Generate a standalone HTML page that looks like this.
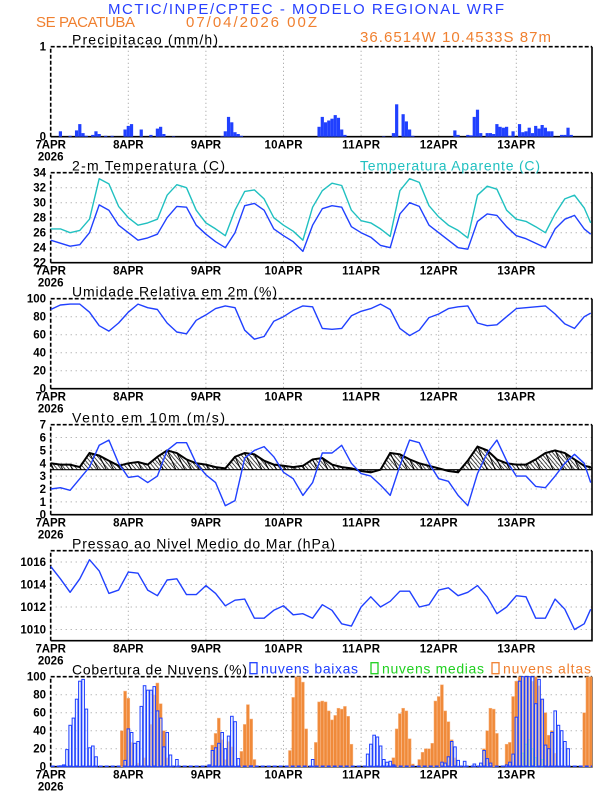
<!DOCTYPE html>
<html><head><meta charset="utf-8">
<style>
html,body{margin:0;padding:0;background:#fff;}
svg{display:block;font-family:"Liberation Sans",sans-serif;}
</style></head>
<body>
<svg id="chart" width="612" height="792" viewBox="0 0 612 792" xmlns="http://www.w3.org/2000/svg">
<defs>
<pattern id="hatch" width="3" height="3" patternUnits="userSpaceOnUse" patternTransform="rotate(-40)">
<line x1="0" y1="0" x2="0" y2="3" stroke="#000" stroke-width="1.4"/>
</pattern>
</defs>
<text x="108" y="14" textLength="396" font-size="15" fill="#2840ff">MCTIC/INPE/CPTEC - MODELO REGIONAL WRF</text>
<text x="36" y="27" textLength="99" font-size="15" fill="#f08030">SE PACATUBA</text>
<text x="186" y="27" textLength="131" font-size="15" fill="#f08030">07/04/2026 00Z</text>
<text x="360" y="42" textLength="191" font-size="15" fill="#f08030">36.6514W 10.4533S 87m</text>
<g id="plots"></g>
</svg>
<script>
const hours = [0,3,6,9,12,15,18,21,24,27,30,33,36,39,42,45,48,51,54,57,60,63,66,69,72,75,78,81,84,87,90,93,96,99,102,105,108,111,114,117,120,123,126,129,132,135,138,141,144,147,150,153,156,159,162,165,167];
const tempValues = [25.0,24.6,24.2,24.4,26.0,29.7,29.0,27.0,26.0,25.0,25.3,25.8,28.0,29.5,29.4,27.0,25.8,24.8,24.0,26.0,29.6,29.9,29.0,26.5,25.6,24.8,23.5,
 27.0,29.2,29.6,29.4,26.8,26.0,25.4,24.3,24.0,28.5,30.0,29.5,27.0,26.0,25.0,24.0,23.8,27.5,28.5,28.3,26.8,25.6,25.2,24.6,24.0,26.5,27.8,28.3,26.5,25.8];
const apparentValues = [26.5,26.5,26.0,26.3,27.8,33.2,32.5,29.5,28.0,27.0,27.3,27.8,31.0,32.4,32.0,29.0,27.3,26.5,25.6,29.0,31.5,31.7,30.5,28.0,27.0,26.2,25.0,
 29.4,31.6,32.6,32.3,29.0,27.6,27.3,26.5,25.5,31.6,33.2,32.7,29.6,28.1,27.0,26.3,25.3,31.0,32.2,31.8,29.0,27.8,27.5,26.8,26.0,28.5,30.5,31.0,29.3,27.3];
const rhValues = [88,93,94,94,85,70,64,73,85,94,90,88,73,63,61,76,82,89,92,90,65,55,58,75,80,87,92,
 91,67,66,67,81,86,89,94,88,67,59,65,79,83,89,91,92,73,70,71,80,89,90,91,92,83,72,67,80,84];
const windSpeed = [2.0,2.1,1.9,2.8,3.7,5.4,5.8,4.0,2.9,3.0,2.5,3.0,5.0,5.6,5.6,4.0,3.1,2.5,0.7,1.1,4.4,5.0,5.3,4.5,3.3,2.8,1.5,
 2.5,4.8,4.8,5.4,4.0,3.2,3.0,2.3,1.5,3.8,5.8,5.6,4.0,2.8,2.6,1.5,0.7,3.2,4.8,5.8,4.2,3.0,3.0,2.2,2.1,3.0,4.0,4.7,4.0,2.5];
const windNorth = [0.5,0.4,0.4,0.2,1.3,1.1,0.7,0.3,0.5,0.6,0.4,1.0,1.5,1.3,0.8,0.5,0.4,0.2,0.1,1.0,1.3,1.2,0.7,0.4,0.3,0.2,0.3,
 0.8,0.9,0.4,0.2,0.1,-0.1,-0.2,0.0,1.3,1.2,0.8,0.5,0.3,0.1,-0.1,-0.2,0.7,1.8,1.5,0.8,0.5,0.4,0.4,0.8,1.3,1.5,1.3,0.8,0.3,0.2];
const windEast = [-0.8,-0.6,-0.6,-0.4,-2.2,-1.8,-1.2,-0.6,-0.8,-0.9,-0.7,-1.5,-2.2,-2.0,-1.3,-0.8,-0.7,-0.5,-0.3,-1.5,-2.0,-1.9,-1.2,-0.7,-0.6,-0.4,-0.5,
 -1.2,-1.4,-0.7,-0.4,-0.2,0.2,0.3,0.0,-2.0,-1.9,-1.2,-0.8,-0.5,-0.2,0.2,0.3,-1.0,-2.4,-2.0,-1.2,-0.8,-0.7,-0.7,-1.2,-1.9,-2.2,-1.9,-1.2,-0.5,-0.3];
const pressureValues = [1015.6,1014.5,1013.3,1014.5,1016.2,1015.2,1013.2,1013.5,1015.1,1015.0,1013.5,1013.0,1014.4,1014.5,1013.1,1013.1,1013.9,1013.2,1012.1,1012.6,1012.7,1011.0,1011.0,1011.7,1012.1,1011.3,1011.4,
 1011.0,1012.2,1011.7,1010.5,1010.3,1012.0,1012.9,1012.0,1012.5,1013.4,1013.4,1012.0,1012.2,1013.5,1013.7,1013.0,1013.3,1013.9,1012.9,1011.4,1012.0,1013.0,1012.9,1011.0,1011.0,1012.7,1011.8,1010.0,1010.5,1011.8];
const precipHours = [3,6,8,9,10,11,13,14,15,17,19,23,24,25,28,31,33,34,35,38,53,54,55,56,57,58,59,
 83,84,85,86,87,88,89,90,91,103,106,107,109,110,111,112,125,126,129,130,131,132,133,135,136,137,138,139,140,141,142,143,145,146,147,148,149,150,151,152,153,154,155,158,159,160,161];
const precipValues = [0.06,0.01,0.07,0.14,0.04,0.01,0.02,0.06,0.03,0.01,0.01,0.08,0.12,0.14,0.08,0.02,0.09,0.11,0.03,0.005,0.005,0.06,0.22,0.16,0.05,0.03,0.01,
 0.11,0.22,0.16,0.18,0.2,0.24,0.21,0.08,0.02,0.005,0.04,0.36,0.25,0.17,0.08,0.01,0.07,0.02,0.02,0.015,0.22,0.3,0.04,0.04,0.04,0.03,0.14,0.11,0.1,0.11,0.01,0.06,0.14,0.05,0.06,0.1,0.04,0.12,0.09,0.13,0.1,0.06,0.06,0.02,0.02,0.1,0.02];
const lowHours = [3,4,5,6,7,8,9,10,11,12,13,14,23,24,25,26,27,28,29,30,31,32,33,34,35,36,37,39,49,50,51,52,53,54,55,56,57,58,62,81,98,99,100,101,102,103,104,105,106,121,122,123,124,125,126,128,131,133,134,135,136,141,142,143,144,145,146,147,148,149,150,151,152,153,154,155,156,157,158,159,160];
const lowValues = [1,2,19,46,54,75,95,97,64,21,23,11,7,42,38,26,28,67,90,85,85,89,62,54,22,38,13,8,2,18,21,26,38,20,34,56,50,9,1,8,14,25,35,33,23,8,5,6,2,5,4,11,28,22,7,6,3,4,18,9,4,2,5,14,55,95,100,100,100,100,70,97,75,24,20,38,62,46,40,28,20];
const midHours = [146,147,148,149,150,152];
const midValues = [15,25,30,20,10,8];
const highHours = [22,23,24,25,27,29,31,32,33,34,35,36,50,51,52,53,54,55,56,59,60,61,62,63,74,75,76,77,78,79,82,83,84,85,86,87,88,89,90,91,92,93,106,107,108,109,110,111,112,114,115,116,117,118,119,120,121,122,123,124,125,134,135,136,137,138,141,142,143,144,145,146,147,148,149,150,151,152,153,154,155,156,165,166,167];
const highValues = [40,84,76,27,4,10,47,80,93,70,40,10,24,37,54,30,8,28,22,17,47,69,53,8,18,77,100,100,94,42,27,72,73,72,62,52,57,65,64,67,56,25,10,42,59,65,62,31,3,8,16,20,20,26,73,78,91,62,50,30,10,20,40,65,64,37,25,27,78,95,100,100,100,100,95,100,90,75,60,35,40,15,60,100,100];
const dayLabels = ["7APR","8APR","9APR","10APR","11APR","12APR","13APR"];

const NS = "http://www.w3.org/2000/svg";
const root = document.getElementById("plots");
const X0 = 50.7, DAYW = 77.6, XR = 592, PH = 90;
function X(h){ return X0 + h*DAYW/24; }
function mk(tag, attrs, parent){
  const e = document.createElementNS(NS, tag);
  for (const k in attrs) e.setAttribute(k, attrs[k]);
  (parent||root).appendChild(e);
  return e;
}
function makeY(top, ymin, ymax){ return v => top + PH - (v-ymin)/(ymax-ymin)*PH; }

function frame(top, ymin, ymax, ticks, title, titleLen, name){
  const Y = makeY(top, ymin, ymax);
  const g = mk("g", {});
  
  
  for (let d=1; d<7; d++){
    const l = mk("line",{x1:X(d*24),x2:X(d*24),y1:top,y2:top+PH,stroke:"#999","stroke-width":1,"stroke-dasharray":"1,3"},g);
    
    
  }
  ticks.forEach(t=>{
    if (t>ymin && t<ymax){
      const l = mk("line",{x1:X0,x2:XR,y1:Y(t),y2:Y(t),stroke:"#999","stroke-width":1,"stroke-dasharray":"1,4"},g);
      
      
    }
    const tx = mk("text",{x:46,y:Y(t)+4,"text-anchor":"end","font-size":11.5,fill:"#000","font-weight":"bold"},g);
    tx.textContent = t;
    
    
  });
  dayLabels.forEach((lab,i)=>{
    const tx = mk("text",{x:X(i*24),y:top+PH+12,"text-anchor":"middle","font-size":11.5,"font-weight":"bold",fill:"#000",textLength:lab.length*7.6},g);
    tx.textContent = lab;
    
    
  });
  const yr = mk("text",{x:X0,y:top+PH+24,"text-anchor":"middle","font-size":11.5,"font-weight":"bold",fill:"#000"},g);
  yr.textContent = "2026";
  
  
  const tt = mk("text",{x:72,y:top-2,"font-size":14,fill:"#000",textLength:titleLen},g);
  tt.textContent = title;
  
  
  const b1 = mk("path",{d:`M${X0},${top+PH} L${X0},${top} L${XR},${top}`,fill:"none",stroke:"#000","stroke-width":1.6,"stroke-dasharray":"4,2"},g);
  
  
  const b2 = mk("path",{d:`M${XR},${top} L${XR},${top+PH} L${X0},${top+PH}`,fill:"none",stroke:"#000","stroke-width":1.6},g);
  
  
  return Y;
}
function line(vals, Y, color, name){
  const d = hours.map((h,i)=>(i?"L":"M")+X(h).toFixed(1)+","+Y(vals[i]).toFixed(1)).join(" ");
  const p = mk("path",{d:d,fill:"none",stroke:color,"stroke-width":1.4,"stroke-linejoin":"round"});
  
  
}
const tops = [46.7,172.7,298.7,424.7,550.7,676.7];

// Precipitation
let Y = frame(tops[0],0,1,[0,1],"Precipitacao (mm/h)",146,"precipitation");
precipHours.forEach((h,i)=>{
  const y = Y(precipValues[i]);
  const r = mk("rect",{x:X(h)-1.6,y:y,width:3.2,height:Y(0)-y,fill:"#2040ff"});
  
  
});

// Temperature
Y = frame(tops[1],22,34,[22,24,26,28,30,32,34],"2-m Temperatura (C)",153,"temperature");
const at = mk("text",{x:360,y:tops[1]-2,"font-size":14,fill:"#20c0c0",textLength:180});
at.textContent = "Temperatura Aparente (C)";


line(apparentValues, Y, "#20c0c0", "apparent-temp-line");
line(tempValues, Y, "#2040ff", "temp-line");

// Humidity
Y = frame(tops[2],0,100,[0,20,40,60,80,100],"Umidade Relativa em 2m (%)",205,"humidity");
line(rhValues, Y, "#2040ff", "humidity-line");

// Wind
Y = frame(tops[3],0,7,[0,1,2,3,4,5,6,7],"Vento em 10m (m/s)",153,"wind");
const sc = PH/7;
let poly = `M${X(hours[0])},${Y(3.5)} `;
hours.forEach((h,i)=>{ poly += `L${X(h).toFixed(1)},${Y(3.5+windNorth[i]).toFixed(1)} `; });
poly += `L${X(hours[hours.length-1])},${Y(3.5)} Z`;
const hp = mk("path",{d:poly,fill:"url(#hatch)",stroke:"none"});


let env = hours.map((h,i)=>(i?"L":"M")+X(h).toFixed(1)+","+Y(3.5+windNorth[i]).toFixed(1)).join(" ");
const ep = mk("path",{d:env,fill:"none",stroke:"#000","stroke-width":2});


const base = mk("line",{x1:X0,x2:XR,y1:Y(3.5),y2:Y(3.5),stroke:"#000","stroke-width":1.2});


hours.forEach((h,i)=>{
  const x1 = X(h)-windEast[i]*4, y1 = Y(3.5), x2 = X(h), y2 = Y(3.5+windNorth[i]);
  const a = mk("line",{x1:x1,y1:y1,x2:x2,y2:y2,stroke:"#000","stroke-width":1});
  
  
});
line(windSpeed, Y, "#2040ff", "wind-speed-line");

// Pressure
Y = frame(tops[4],1009,1017,[1010,1012,1014,1016],"Pressao ao Nivel Medio do Mar (hPa)",263,"pressure");
line(pressureValues, Y, "#2040ff", "pressure-line");

// Clouds
Y = frame(tops[5],0,100,[0,20,40,60,80,100],"Cobertura de Nuvens (%)",175,"cloud-cover");
highHours.forEach((h,i)=>{
  const y = Y(highValues[i]);
  const r = mk("rect",{x:X(h)-1.5,y:y,width:3,height:Y(0)-y,fill:"#f08a3a",stroke:"#f8b888","stroke-width":0.5});
  
  
});
midHours.forEach((h,i)=>{
  const y = Y(midValues[i]);
  const r = mk("rect",{x:X(h)-1,y:y,width:2,height:Y(0)-y,fill:"none",stroke:"#20d020","stroke-width":1});
  
  
});
lowHours.forEach((h,i)=>{
  const y = Y(lowValues[i]);
  const r = mk("rect",{x:X(h)-1.2,y:y,width:2.6,height:Y(0)-y,fill:"#e4ecff","fill-opacity":0.6,stroke:"#2040ff","stroke-width":1});
  
  
});
const zl = mk("line",{x1:X0,x2:XR,y1:Y(0)-0.5,y2:Y(0)-0.5,stroke:"#2040ff","stroke-width":1.5,"stroke-dasharray":"4,2"});


const legend = [["nuvens baixas","#2040ff",250,97],["nuvens medias","#20d020",371,102],["nuvens altas","#f08030",492,88]];
legend.forEach(([t,c,x,w])=>{
  const bx = mk("rect",{x:x,y:tops[5]-14,width:7,height:11,fill:"none",stroke:c,"stroke-width":1.3});
  
  
  const tx = mk("text",{x:x+11,y:tops[5]-3,"font-size":14,fill:c,textLength:w});
  tx.textContent = t;
  
  
});
</script>
</body></html>
